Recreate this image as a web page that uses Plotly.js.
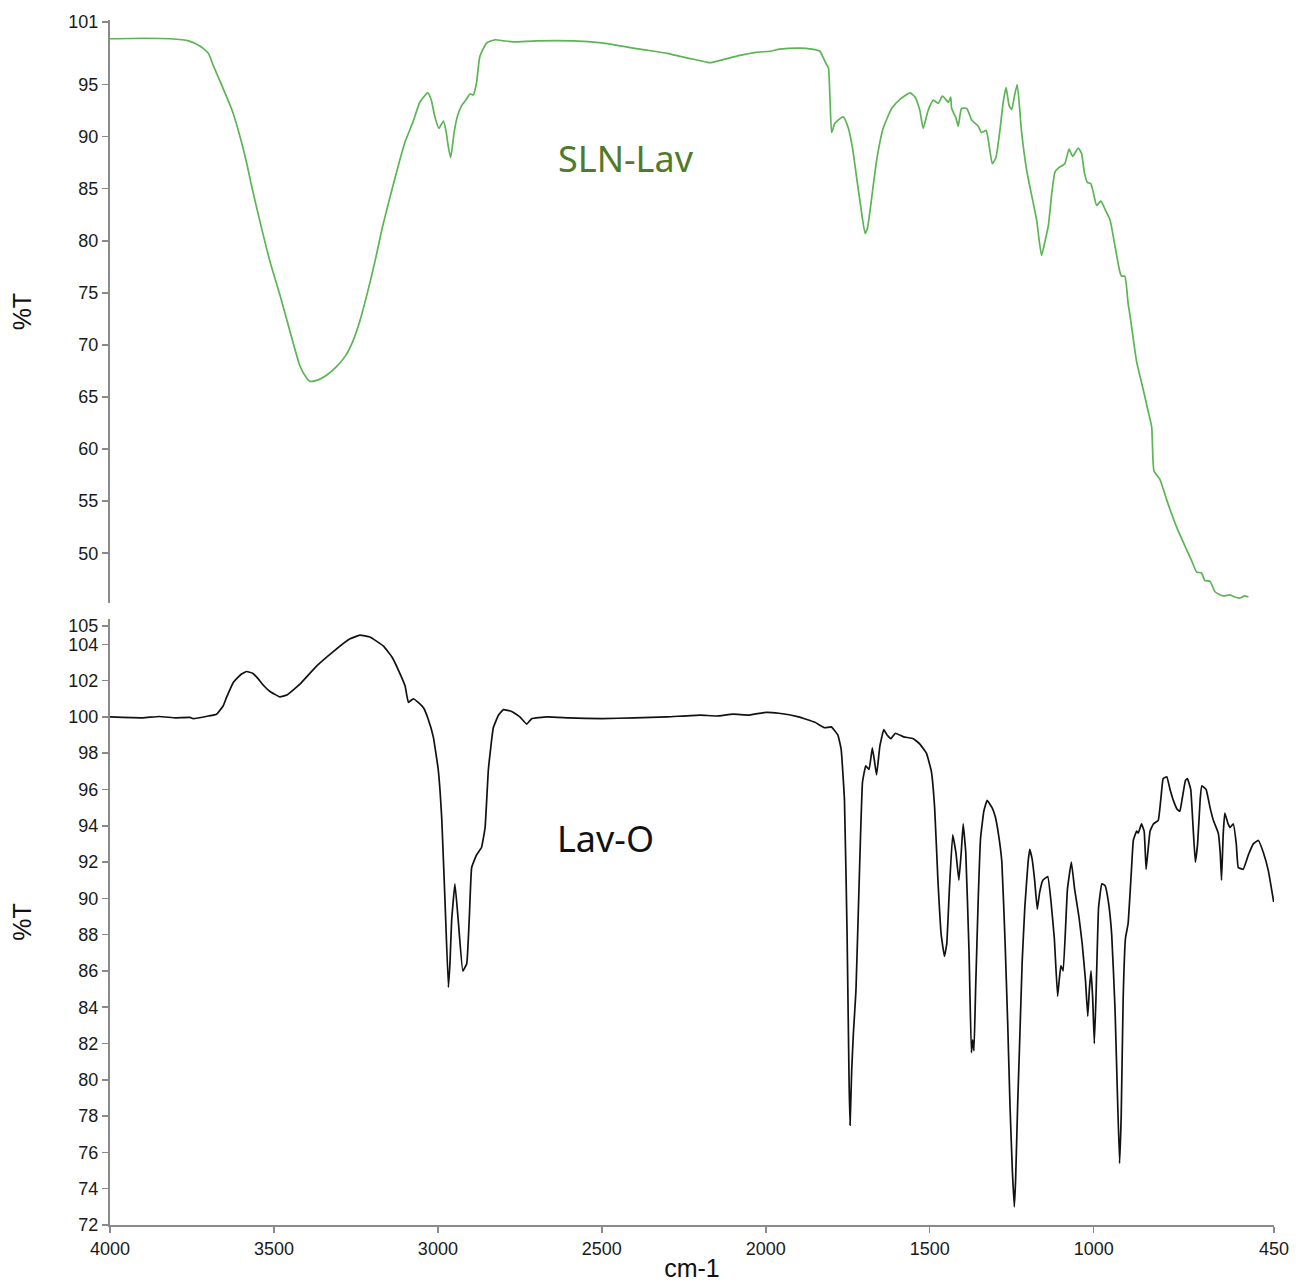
<!DOCTYPE html>
<html>
<head>
<meta charset="utf-8">
<script src="https://cdn.plot.ly/plotly-3.0.1.min.js"></script>
<style>html,body{margin:0;padding:0;background:#fff;}#chart{width:1306px;height:1286px;}</style>
</head>
<body>
<div id="chart"></div>
<script>
// SLN-Lav (green, top panel)
const slnWave = [4000,3900,3817,3760,3726,3700,3686,3660,3625,3600,3582,3567,3540,3512,3480,3451,3421,3400,3390,3370,3344,3310,3283,3260,3238,3215,3192,3170,3146,3120,3100,3075,3055,3031,3020,3010,2997,2983,2975,2968,2961,2950,2940,2927,2915,2902,2892,2882,2872,2851,2826,2800,2771,2700,2588,2500,2384,2300,2262,2200,2170,2130,2079,2030,1987,1957,1896,1860,1835,1825,1816,1809,1804,1799,1789,1764,1748,1735,1723,1710,1697,1690,1682,1662,1642,1616,1590,1560,1545,1530,1520,1505,1489,1474,1461,1443,1436,1433,1420,1413,1403,1387,1372,1352,1342,1328,1318,1309,1298,1286,1275,1267,1258,1250,1241,1233,1220,1204,1190,1174,1159,1148,1138,1128,1118,1107,1097,1088,1075,1064,1047,1037,1028,1019,1009,1000,991,978,965,950,935,920,915,905,895,889,869,848,835,823,816,798,777,747,716,700,686,671,661,645,630,605,584,570,554,540,528];
const slnT = [99.4,99.45,99.4,99.2,98.7,98.0,96.9,95.0,92.3,89.6,87.3,85.1,81.5,78.0,74.6,71.3,68.0,66.8,66.5,66.6,67.0,67.9,68.9,70.3,72.3,75.0,78.0,81.2,84.2,87.3,89.5,91.5,93.3,94.2,93.5,92.0,90.8,91.5,90.5,89.0,88.0,90.5,92.0,93.0,93.5,94.1,94.0,95.2,97.7,99.0,99.3,99.2,99.1,99.2,99.2,99.0,98.4,98.0,97.7,97.3,97.1,97.4,97.8,98.1,98.2,98.4,98.5,98.4,98.2,97.6,97.0,96.6,93.5,90.4,91.3,91.9,90.8,88.8,86.1,83.2,80.7,81.2,82.9,87.7,90.8,92.7,93.6,94.2,93.8,92.5,90.8,92.5,93.5,93.2,93.9,93.3,93.8,92.7,91.8,91.0,92.7,92.7,91.6,91.0,90.4,90.6,89.0,87.4,88.0,90.6,93.5,94.7,93.0,92.6,94.0,95.0,90.5,86.7,84.5,82.0,78.6,80.0,81.5,84.5,86.6,87.0,87.2,87.4,88.8,88.1,88.9,88.4,86.5,85.6,85.5,84.5,83.4,83.8,83.0,82.0,79.5,77.0,76.6,76.6,74.0,72.8,68.4,65.6,63.8,62.1,57.9,57.1,55.1,52.5,50.3,49.2,48.2,48.1,47.4,47.3,46.3,45.9,46.0,45.8,45.7,45.9,45.8];

// Lav-O (black, bottom panel)
const lavWave = [4000,3900,3850,3800,3756,3746,3700,3675,3655,3644,3624,3600,3583,3565,3553,3530,3512,3482,3461,3440,3421,3370,3319,3268,3238,3207,3166,3140,3116,3100,3090,3075,3060,3044,3030,3014,2999,2988,2978,2968,2963,2958,2948,2938,2924,2912,2904,2897,2882,2867,2856,2846,2831,2815,2800,2775,2750,2729,2714,2668,2600,2500,2400,2300,2200,2150,2100,2050,2000,1960,1900,1850,1820,1800,1780,1770,1760,1752,1746,1743,1738,1733,1725,1715,1705,1695,1685,1675,1668,1662,1652,1640,1630,1618,1605,1580,1550,1530,1510,1495,1485,1475,1465,1455,1448,1440,1430,1420,1411,1404,1398,1390,1380,1373,1369,1365,1360,1352,1345,1335,1325,1310,1300,1290,1280,1270,1262,1255,1248,1242,1238,1232,1225,1218,1210,1200,1195,1188,1180,1172,1165,1155,1140,1130,1120,1110,1105,1100,1093,1080,1068,1058,1045,1035,1025,1018,1013,1008,1003,998,993,985,975,965,955,945,935,928,921,916,910,903,895,885,879,869,864,854,846,840,835,828,818,803,795,788,777,767,757,745,737,729,720,714,704,697,690,683,675,670,657,645,635,620,614,610,605,600,590,584,574,565,559,544,528,513,498,482,467,451];
const lavT = [100.0,99.95,100.02,99.95,99.97,99.9,100.05,100.15,100.6,101.1,101.9,102.35,102.5,102.4,102.2,101.7,101.4,101.1,101.2,101.5,101.8,102.8,103.6,104.3,104.5,104.4,103.9,103.3,102.4,101.7,100.8,101.0,100.8,100.5,99.9,98.9,97.1,94.3,89.7,85.1,86.5,88.8,90.8,88.8,86.0,86.4,89.0,91.7,92.4,92.8,93.9,97.1,99.4,100.1,100.4,100.3,100.0,99.6,99.9,100.0,99.95,99.9,99.95,100.0,100.1,100.05,100.15,100.1,100.25,100.2,100.0,99.7,99.4,99.45,99.0,98.2,95.4,88.0,80.0,77.5,80.5,82.5,84.9,91.0,96.4,97.3,97.1,98.3,97.5,96.8,98.4,99.3,99.0,98.8,99.1,98.9,98.8,98.5,98.0,97.0,95.0,91.0,88.0,86.8,87.5,90.5,93.5,92.5,91.0,92.5,94.1,92.5,87.0,81.5,82.2,81.6,85.0,90.0,93.3,94.8,95.4,95.0,94.5,93.5,92.0,87.5,83.0,78.5,75.0,73.0,74.5,78.5,82.5,86.5,89.5,92.0,92.7,92.2,91.0,89.4,90.3,91.0,91.2,89.8,87.8,84.6,85.5,86.3,86.0,90.5,92.0,90.5,89.0,87.5,85.5,83.5,85.0,86.0,84.5,82.0,84.5,89.5,90.8,90.7,89.8,88.0,84.0,79.5,75.4,78.0,84.5,87.8,88.6,91.5,93.2,93.7,93.6,94.1,93.7,91.6,92.5,93.7,94.1,94.3,95.5,96.6,96.7,96.0,95.4,94.9,94.8,95.6,96.5,96.6,96.0,94.0,92.0,93.0,95.5,96.2,96.0,95.0,94.3,93.6,92.5,91.0,93.5,94.7,94.1,93.9,94.1,93.0,91.7,91.6,92.4,93.0,93.2,92.5,91.5,89.8];

const xTicks = [4000,3500,3000,2500,2000,1500,1000,450];
const topTicks = [50,55,60,65,70,75,80,85,90,95,101];
const bottomTicks = [72,74,76,78,80,82,84,86,88,90,92,94,96,98,100,102,104,105];
const labelTop = "SLN-Lav";
const labelBottom = "Lav-O";

const tickFont = {family: "Liberation Sans, Arial, sans-serif", size: 18, color: "#1a1a1a"};
const titleFont = {family: "Liberation Sans, Arial, sans-serif", size: 25, color: "#111"};

const traces = [
  {x: slnWave, y: slnT, xaxis: "x", yaxis: "y2", mode: "lines", line: {color: "#5ab552", width: 1.7, shape: "spline", smoothing: 0.5}, name: labelTop, hoverinfo: "x+y"},
  {x: lavWave, y: lavT, xaxis: "x", yaxis: "y", mode: "lines", line: {color: "#111", width: 1.7, shape: "spline", smoothing: 0.3}, name: labelBottom, hoverinfo: "x+y"}
];

const axisCommon = {
  showgrid: false, zeroline: false, showline: true, linecolor: "#8a8a8a", linewidth: 2,
  ticks: "outside", ticklen: 6, tickcolor: "#8a8a8a", tickwidth: 1.5, tickfont: tickFont
};

const layout = {
  width: 1306, height: 1286,
  margin: {l: 110, r: 32, t: 20, b: 61},
  paper_bgcolor: "#fff", plot_bgcolor: "#fff",
  showlegend: false,
  xaxis: Object.assign({}, axisCommon, {
    range: [4000, 450], tickvals: xTicks, anchor: "y", domain: [0, 1],
    title: {text: "cm-1", font: titleFont, standoff: 2}
  }),
  yaxis: Object.assign({}, axisCommon, {
    domain: [0, 0.503], range: [72, 105.4], tickvals: bottomTicks, anchor: "x",
    title: {text: "%T", font: titleFont, standoff: 30}
  }),
  yaxis2: Object.assign({}, axisCommon, {
    domain: [0.516, 1], range: [45.2, 101.2], tickvals: topTicks, anchor: "x",
    title: {text: "%T", font: titleFont, standoff: 30}
  }),
  annotations: [
    {text: labelTop, xref: "paper", yref: "paper", x: 0.443, y: 0.885, showarrow: false,
     font: {family: "Noto Sans, Open Sans, sans-serif", size: 36, color: "#4f7a2a"}, xanchor: "center", yanchor: "middle"},
    {text: labelBottom, xref: "paper", yref: "paper", x: 0.426, y: 0.321, showarrow: false,
     font: {family: "Noto Sans, Open Sans, sans-serif", size: 36, color: "#111"}, xanchor: "center", yanchor: "middle"}
  ]
};

Plotly.newPlot("chart", traces, layout, {displayModeBar: false, staticPlot: true});
</script>
</body>
</html>
